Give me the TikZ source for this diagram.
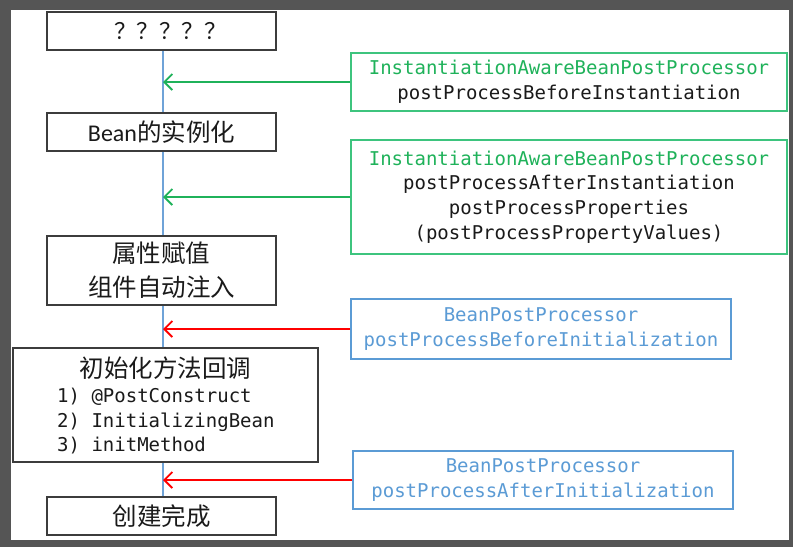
\documentclass[tikz,border=0pt]{standalone}
\usepackage{fontspec}
\usetikzlibrary{arrows.meta}
\newfontfamily\monof{DejaVu Sans Mono}
\newfontfamily\cjkf{Noto Sans CJK SC}
\newfontfamily\calf{Carlito}
\definecolor{framegray}{HTML}{555555}
\definecolor{boxline}{HTML}{3C3C3C}
\definecolor{grn}{HTML}{1FB25A}
\definecolor{grnline}{HTML}{3DC47E}
\definecolor{blu}{HTML}{5B9BD5}
\definecolor{spine}{HTML}{6FA3D8}
\definecolor{txt}{HTML}{1A1A1A}
\tikzset{
  stepbox/.style={draw=boxline, line width=1.4pt, fill=white, inner sep=0pt,
    minimum width=229pt, minimum height=38pt, text=txt},
  greenbox/.style={draw=grnline, line width=1.3pt, fill=white, inner sep=0pt,
    minimum width=436pt, align=center, font=\monof\fontsize{19}{24.6}\selectfont, text=txt},
  bluebox/.style={draw=blu, line width=1.3pt, fill=white, inner sep=0pt,
    minimum width=380pt, minimum height=58pt, align=center,
    font=\monof\fontsize{19}{24.6}\selectfont, text=blu},
  cjktext/.style={font=\cjkf\fontsize{24.5}{34}\selectfont, align=center},
  greenarrow/.style={draw=grn, line width=2pt, -{Straight Barb[length=8pt,width=16pt,line width=1.8pt]}},
  redarrow/.style={draw=red, line width=2pt, -{Straight Barb[length=8pt,width=16pt,line width=1.8pt]}},
}
\begin{document}
\begin{tikzpicture}[x=1pt,y=-1pt]
\fill[framegray] (0,0) rectangle (793,547);
\fill[white] (11,10) rectangle (789,540);
\useasboundingbox (0,0) rectangle (793,547);

\coordinate (top) at (163,50);
\coordinate (bot) at (163,497);
\draw[spine, line width=1.3pt] (top) -- (bot);

% left column
\node[stepbox] (b1) at (161.5,31) {\cjkf\fontsize{22.5}{26}\selectfont\kern18pt ？？？？？};
\node[stepbox] (b2) at (161.5,132) {\calf\fontsize{24}{28}\selectfont Bean\cjkf\fontsize{24.5}{28}\selectfont 的实例化};
\node[stepbox, minimum height=69pt, cjktext] (b3) at (161.5,270.5) {属性赋值\\组件自动注入};
\node[stepbox, minimum width=305pt, minimum height=114pt] (b4) at (165.5,405) {};
\node[cjktext, text=txt, inner sep=0pt] (b4t) at (165.5,368) {初始化方法回调};
\node[anchor=west, align=left, inner sep=0pt, text=txt, font=\monof\fontsize{19}{24.5}\selectfont] (b4l) at (57,421.5) {1) @PostConstruct\\2) InitializingBean\\3) initMethod};
\node[stepbox, cjktext] (b5) at (161.5,516) {创建完成};

% right column
\node[greenbox, minimum height=58pt] (g1) at (569,82)
  {\textcolor{grn}{InstantiationAwareBeanPostProcessor}\\postProcessBeforeInstantiation};
\node[greenbox, minimum height=114pt] (g2) at (569,197)
  {\textcolor{grn}{InstantiationAwareBeanPostProcessor}\\postProcessAfterInstantiation\\postProcessProperties\\(postProcessPropertyValues)};
\node[bluebox, minimum height=60pt] (p1) at (541,329)
  {BeanPostProcessor\\postProcessBeforeInitialization};
\node[bluebox] (p2) at (543,480)
  {BeanPostProcessor\\postProcessAfterInitialization};

% arrows
\draw[greenarrow] (g1.west) -- (g1.west -| top);
\draw[greenarrow] (g2.west) -- (g2.west -| top);
\draw[redarrow] (p1.west) -- (p1.west -| top);
\draw[redarrow] (p2.west) -- (p2.west -| top);
\end{tikzpicture}
\end{document}
